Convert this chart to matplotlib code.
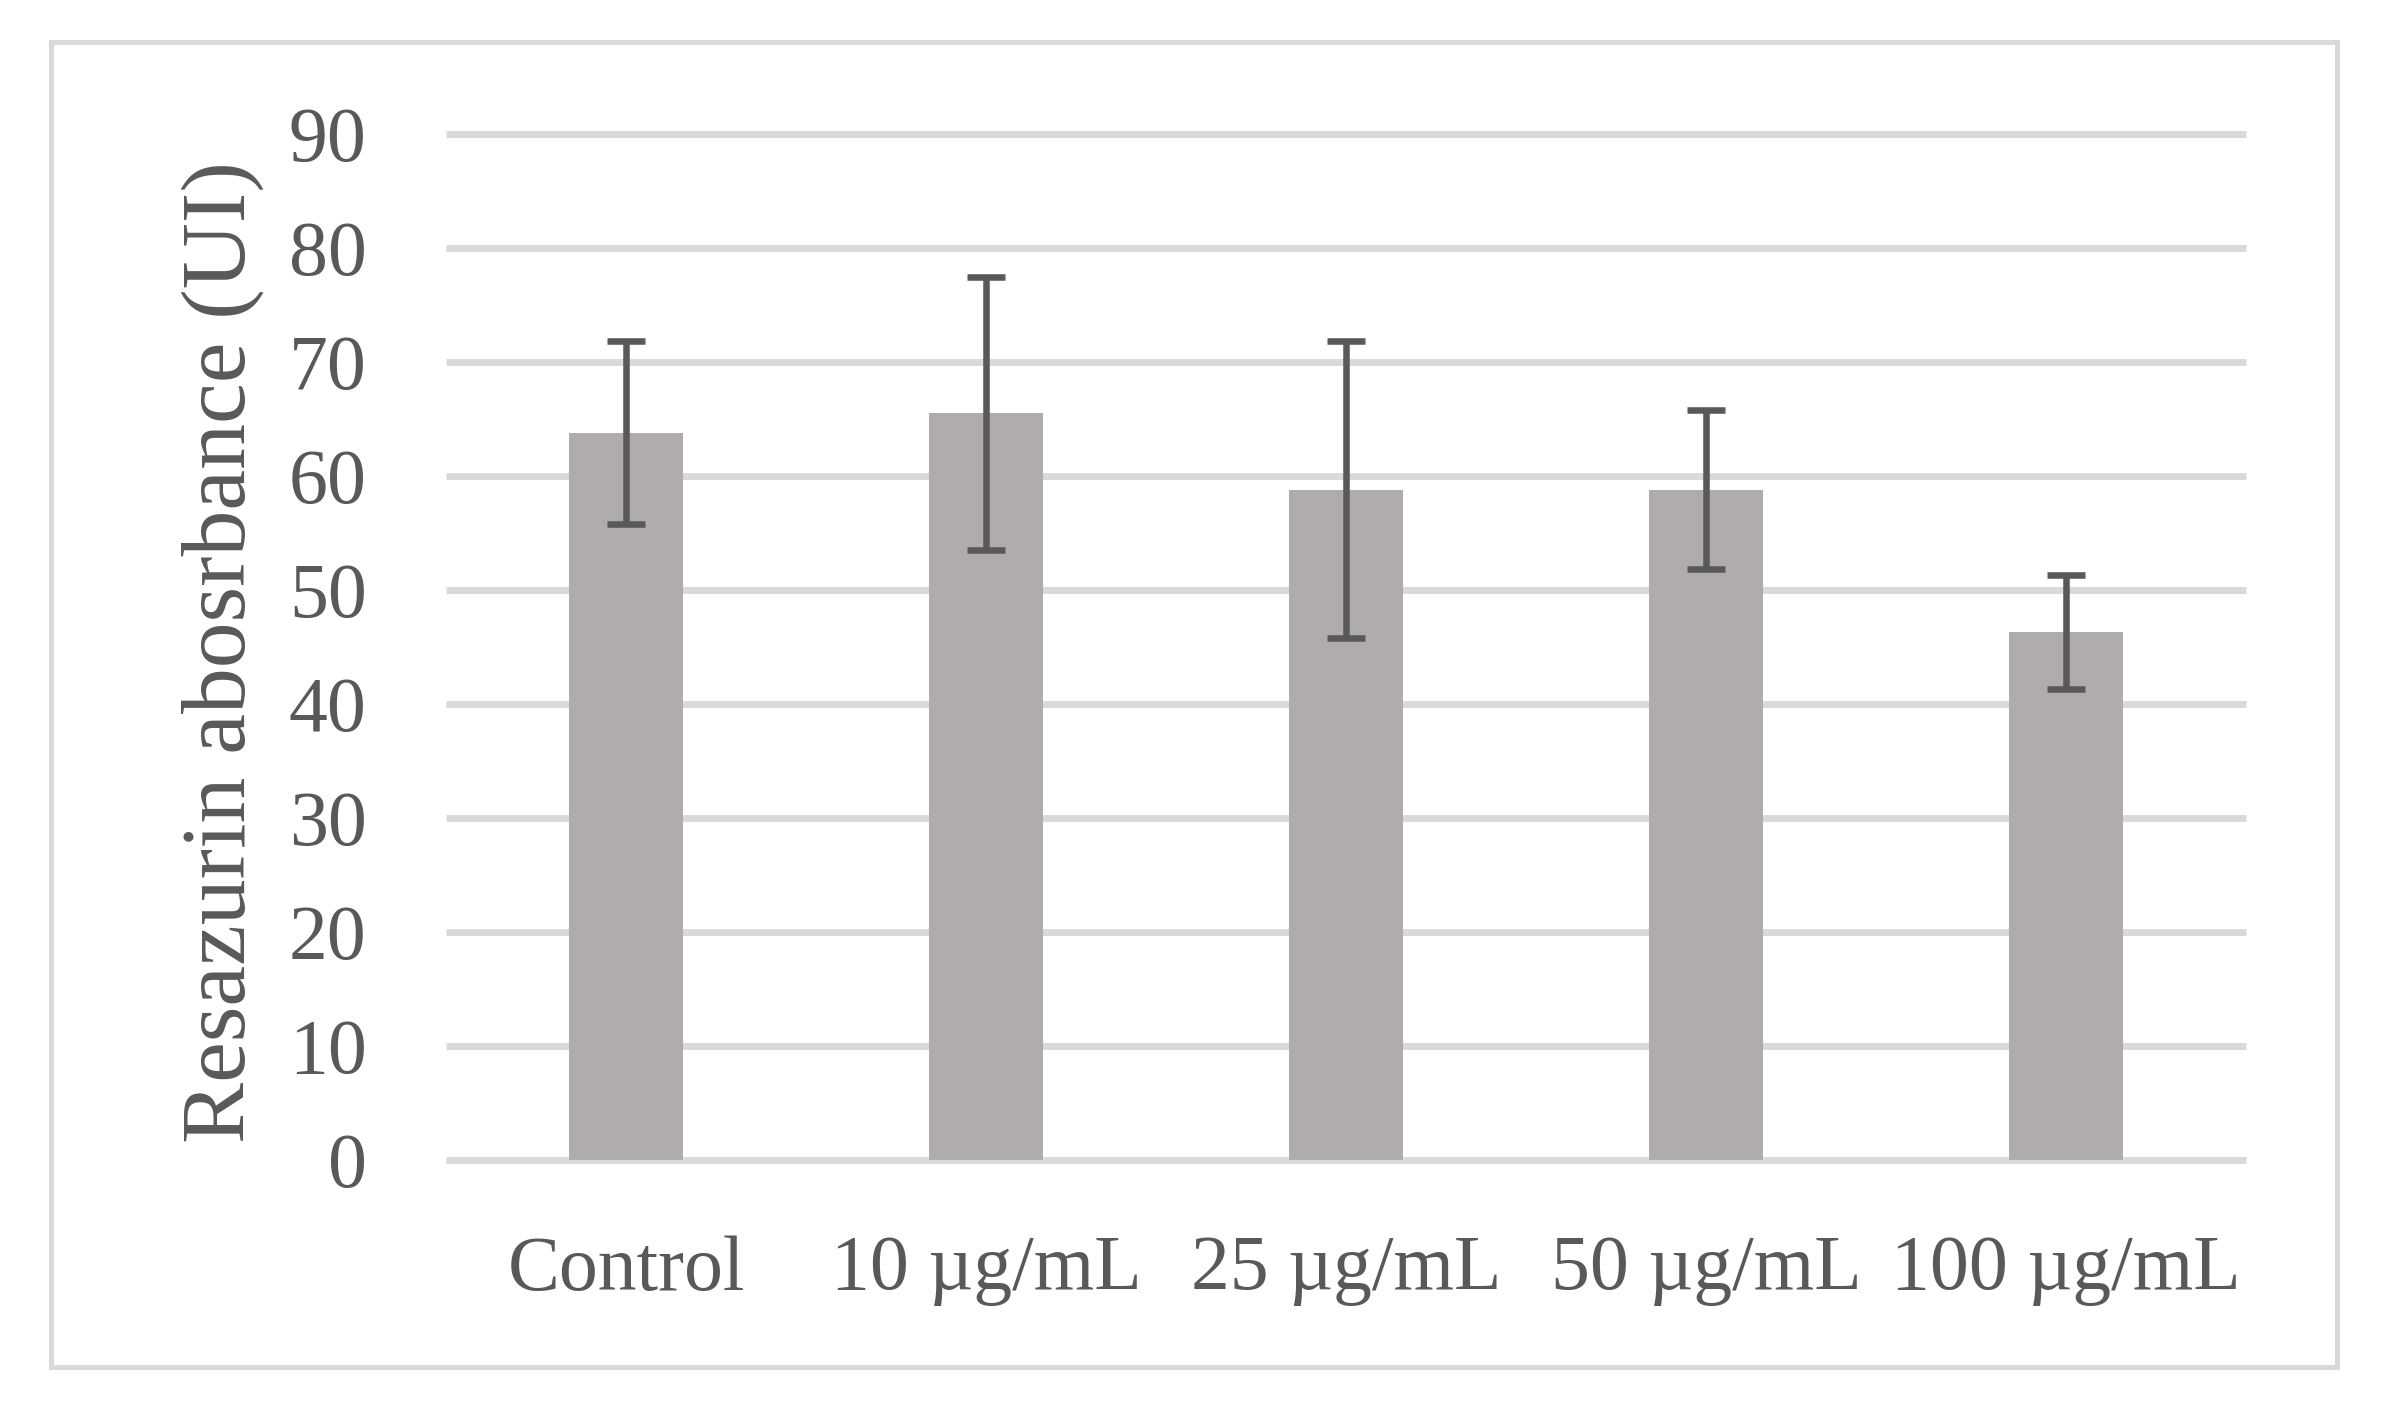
import matplotlib
matplotlib.use("Agg")
import matplotlib.pyplot as plt
from matplotlib.patches import Rectangle

categories = ["Control", "10 µg/mL", "25 µg/mL", "50 µg/mL", "100 µg/mL"]
values = [63.8, 65.5, 58.8, 58.8, 46.3]
errors = [8.0, 12.0, 13.0, 7.0, 5.0]
yticks = [0, 10, 20, 30, 40, 50, 60, 70, 80, 90]

W, H = 2397, 1408
fig = plt.figure(figsize=(W / 100, H / 100), dpi=100)
plt.rcParams['font.family'] = ['Liberation Serif', 'DejaVu Serif']
txt = '#595959'

# outer frame
fig.patches.append(Rectangle((51 / W, 1 - 1367 / H), (2337 - 51) / W, (1367 - 42) / H,
                             transform=fig.transFigure, fill=False,
                             edgecolor='#d9d9d9', lw=3.6, zorder=0))

ax_left, ax_right = 446, 2246
y0px, y90px = 1160, 134
ax = fig.add_axes([ax_left / W, 1 - y0px / H, (ax_right - ax_left) / W, (y0px - y90px) / H])
ax.set_ylim(0, 90)
ax.set_xlim(-0.5, len(categories) - 0.5)

x = list(range(len(categories)))
ax.bar(x, values, width=0.314, color='#afacab', zorder=2)
ax.errorbar(x, values, yerr=errors, fmt='none', ecolor='#595959', elinewidth=4.7,
            capsize=14, capthick=4.7, zorder=3)

ax.set_yticks(yticks)
ax.yaxis.grid(True, color='#d9d9d9', lw=5, zorder=0)
for gl in ax.get_ygridlines():
    gl.set_clip_on(False)
    gl.set_solid_capstyle('butt')
ax.set_axisbelow(True)
ax.tick_params(axis='y', length=0, pad=57, labelsize=56, labelcolor=txt)
ax.set_xticks(x)
ax.set_xticklabels(categories)
ax.tick_params(axis='x', length=0, pad=54, labelsize=56, labelcolor=txt)
for s in ax.spines.values():
    s.set_visible(False)

fig.text(223 / W, 1 - 652 / H, "Resazurin abosrbance (UI)", rotation=90,
         ha='center', va='center', fontsize=66, color=txt)

fig.savefig("out.png", dpi=100)
